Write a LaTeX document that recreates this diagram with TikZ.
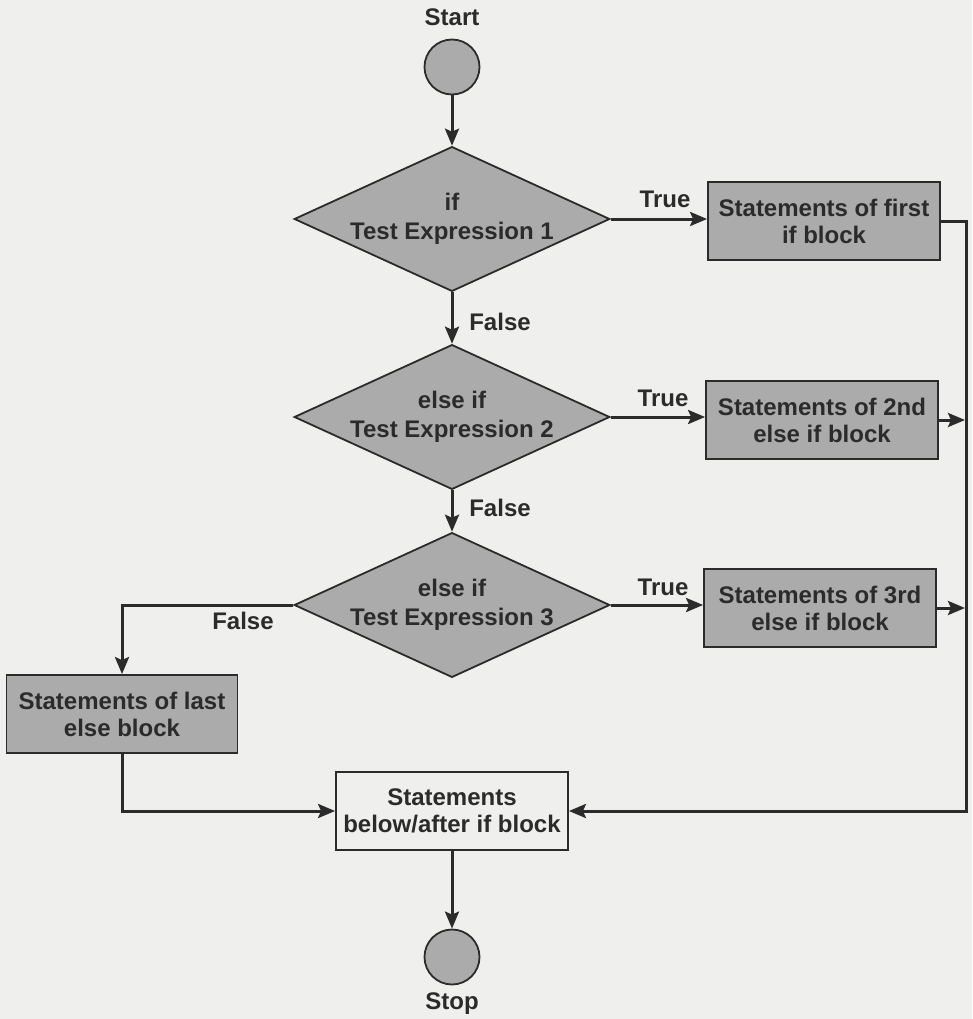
\documentclass[tikz,border=0pt]{standalone}
\usepackage{fontspec}
\setmainfont{Liberation Sans}
\usetikzlibrary{shapes.geometric,arrows.meta}
\definecolor{paper}{HTML}{EFEFED}
\definecolor{ink}{HTML}{2B2B2B}
\definecolor{shade}{HTML}{ABABAB}

\begin{document}
\begin{tikzpicture}[x=1pt,y=-1pt,
  every node/.style={font=\fontsize{24}{29}\selectfont\bfseries, text=ink},
  decision/.style={diamond, aspect=2.18, draw=ink, line width=1.8pt, fill=shade,
    minimum width=314pt, minimum height=144pt, inner sep=0pt, align=center},
  block/.style={rectangle, draw=ink, line width=1.8pt, fill=shade,
    minimum width=232pt, minimum height=78pt, inner sep=0pt, align=center,
    font=\fontsize{24}{27}\selectfont\bfseries},
  terminal/.style={circle, draw=ink, line width=1.8pt, fill=shade,
    minimum size=55pt, inner sep=0pt},
  flow/.style={draw=ink, line width=3pt,
    -{Stealth[length=17pt,width=14pt,inset=3pt]}},
  tag/.style={inner sep=0pt}
]
% page
\fill[paper] (0,0) rectangle (972,1019);
\useasboundingbox (0,0) rectangle (972,1019);

% terminals
\node[tag] (lstart) at (452,17) {Start};
\node[terminal] (start) at (452,67) {};
\node[terminal] (stop) at (452,957) {};
\node[tag] (lstop) at (452,1004) {Stop};

% decisions
\node[decision] (d1) at (452,219) {if\\Test Expression 1};
\node[decision] (d2) at (452,417) {else if\\Test Expression 2};
\node[decision] (d3) at (452,605) {else if\\Test Expression 3};

% statement blocks
\node[block] (b1) at (824,221) {Statements of first\\if block};
\node[block] (b2) at (822,420) {Statements of 2nd\\else if block};
\node[block] (b3) at (820,608) {Statements of 3rd\\else if block};
\node[block, minimum width=231pt] (b4) at (122,714) {Statements of last\\else block};
\node[block, fill=paper] (after) at (452,811) {Statements\\below/after if block};

% collecting line on the right
\coordinate (busTop) at (966,221);
\coordinate (busBot) at (966,811);

% main chain
\draw[flow] (start) -- (d1);
\draw[flow] (d1) -- (d2);
\draw[flow] (d2) -- (d3);
\draw[flow] (after) -- (stop);

% true branches
\draw[flow] (d1.east) -- (d1.east -| b1.west);
\draw[flow] (d2.east) -- (d2.east -| b2.west);
\draw[flow] (d3.east) -- (d3.east -| b3.west);

% false branch of the last test
\draw[flow] (d3.west) -- (d3.west -| b4.north) -- (b4.north);

% joins into the following statements
\draw[flow] (b1.east) -- (busTop) -- (busBot) -- (after.east);
\draw[flow, shorten >=1pt] (b2.east) -- (b2.east -| busTop);
\draw[flow, shorten >=1pt] (b3.east) -- (b3.east -| busTop);
\draw[flow] (b4.south) |- (after.west);

% branch labels
\node[tag] (f1) at (500,322) {False};
\node[tag] (f2) at (500,508) {False};
\node[tag] (f3) at (243,621) {False};
\node[tag] (t1) at (665,199) {True};
\node[tag] (t2) at (663,398) {True};
\node[tag] (t3) at (663,587) {True};
\end{tikzpicture}
\end{document}
